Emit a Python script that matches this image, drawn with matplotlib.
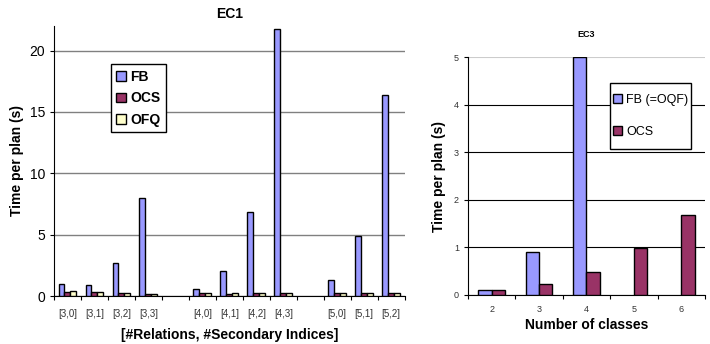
import matplotlib
matplotlib.use("Agg")
import matplotlib.pyplot as plt
from matplotlib.patches import Rectangle
import numpy as np

plt.rcParams['font.family'] = ['Liberation Sans', 'DejaVu Sans']

# ---- EC1 data ----
ec1_labels = ["[3,0]", "[3,1]", "[3,2]", "[3,3]",
              "[4,0]", "[4,1]", "[4,2]", "[4,3]",
              "[5,0]", "[5,1]", "[5,2]"]
ec1_fb = [1.01, 0.87, 2.7, 8.0, 0.6, 2.05, 6.83, 21.75, 1.3, 4.9, 16.35]
ec1_ocs = [0.35, 0.3, 0.22, 0.2, 0.25, 0.2, 0.22, 0.22, 0.25, 0.25, 0.28]
ec1_ofq = [0.38, 0.3, 0.22, 0.2, 0.25, 0.22, 0.22, 0.22, 0.25, 0.25, 0.28]

# ---- EC3 data ----
ec3_classes = ["2", "3", "4", "5", "6"]
ec3_fb = [0.1, 0.91, 5.0, 0.0, 0.0]
ec3_ocs = [0.1, 0.23, 0.48, 0.99, 1.69]

c_fb = "#9999FF"
c_ocs = "#993366"
c_ofq = "#FFFFCC"

fig = plt.figure(figsize=(7.1, 3.44), dpi=100)

# ---------------- Left chart ----------------
ax1 = fig.add_axes([0.076, 0.1395, 0.494, 0.785])
pos = []
p = 0
prev = None
for lab in ec1_labels:
    g = lab[1]
    if prev is not None and g != prev:
        p += 1
    pos.append(p)
    p += 1
    prev = g
pos = np.array(pos, dtype=float)
nslots = p
w = 0.22
kw = dict(edgecolor="black", linewidth=1.0, zorder=3)
ax1.bar(pos - w, ec1_fb, w, color=c_fb, label="FB", **kw)
ax1.bar(pos, ec1_ocs, w, color=c_ocs, label="OCS", **kw)
ax1.bar(pos + w, ec1_ofq, w, color=c_ofq, label="OFQ", **kw)
ax1.set_xlim(-0.5, nslots - 0.5)
ax1.set_ylim(0, 22)
ax1.set_yticks([0, 5, 10, 15, 20])
ax1.yaxis.grid(True, color="#808080", linewidth=1.0, zorder=0)
ax1.set_xticks(np.arange(-0.5, nslots, 1.0))
ax1.set_xticklabels([])
ax1.set_xticks(pos, minor=True)
ax1.set_xticklabels(ec1_labels, minor=True, fontsize=7, color="#333333")
ax1.tick_params(axis="x", which="minor", length=0, pad=9)
ax1.tick_params(axis="x", which="major", length=3, direction="out")
ax1.tick_params(axis="y", labelsize=10, length=3)
for s in ["top", "right"]:
    ax1.spines[s].set_visible(False)
ax1.set_ylabel("Time per plan (s)", fontsize=10, fontweight="bold", labelpad=4)
ax1.set_xlabel("[#Relations, #Secondary Indices]", fontsize=10, fontweight="bold", labelpad=7)
ax1.set_title("EC1", fontsize=10, fontweight="bold", pad=6)
leg1 = ax1.legend(loc="upper left", bbox_to_anchor=(0.162, 0.859), borderaxespad=0,
                  prop={"weight": "bold", "size": 10}, handlelength=0.7, handleheight=0.7,
                  handletextpad=0.3, labelspacing=0.55, borderpad=0.4, fancybox=False,
                  framealpha=1)
leg1.get_frame().set_edgecolor("black")
leg1.get_frame().set_linewidth(1.0)

# ---------------- Right chart ----------------
ax2 = fig.add_axes([0.659, 0.143, 0.334, 0.69])
x2 = np.arange(len(ec3_classes))
w2 = 0.28
fb_bars = ax2.bar(x2 - w2 / 2, ec3_fb, w2, color=c_fb, label="FB (=OQF)", **kw)
for b, v in zip(fb_bars, ec3_fb):
    if v == 0:
        b.set_linewidth(0)
ax2.bar(x2 + w2 / 2, ec3_ocs, w2, color=c_ocs, label="OCS", **kw)
ax2.set_xlim(-0.5, len(ec3_classes) - 0.5)
ax2.set_ylim(0, 5)
ax2.set_yticks([0, 1, 2, 3, 4, 5])
ax2.yaxis.grid(True, color="black", linewidth=0.8, zorder=0)
ax2.get_ygridlines()[-1].set_color("#cccccc")
ax2.set_xticks(np.arange(-0.5, len(ec3_classes), 1.0))
ax2.set_xticklabels([])
ax2.set_xticks(x2, minor=True)
ax2.set_xticklabels(ec3_classes, minor=True, fontsize=6.5, color="#333333")
ax2.tick_params(axis="x", which="minor", length=0, pad=7)
ax2.tick_params(axis="x", which="major", length=3, direction="out")
ax2.tick_params(axis="y", labelsize=6.5, length=3, labelcolor="#333333")
for s in ["top", "right"]:
    ax2.spines[s].set_visible(False)
ax2.set_ylabel("Time per plan (s)", fontsize=10, fontweight="bold", labelpad=6)
ax2.set_xlabel("Number of classes", fontsize=10, fontweight="bold", labelpad=3)
ax2.set_title("EC3", fontsize=6.5, fontweight="bold", pad=15)
ax2.add_patch(Rectangle((0.601, 0.614), 0.34, 0.278, transform=ax2.transAxes,
                        facecolor="white", edgecolor="black", linewidth=1.0,
                        zorder=4, clip_on=False))
leg2 = ax2.legend(loc="center", bbox_to_anchor=(0.771, 0.753), fontsize=9,
                  handlelength=0.7, handleheight=0.7, handletextpad=0.3,
                  labelspacing=1.6, borderpad=0.3, frameon=False)
leg2.set_zorder(5)

fig.savefig("out.png", dpi=100)
